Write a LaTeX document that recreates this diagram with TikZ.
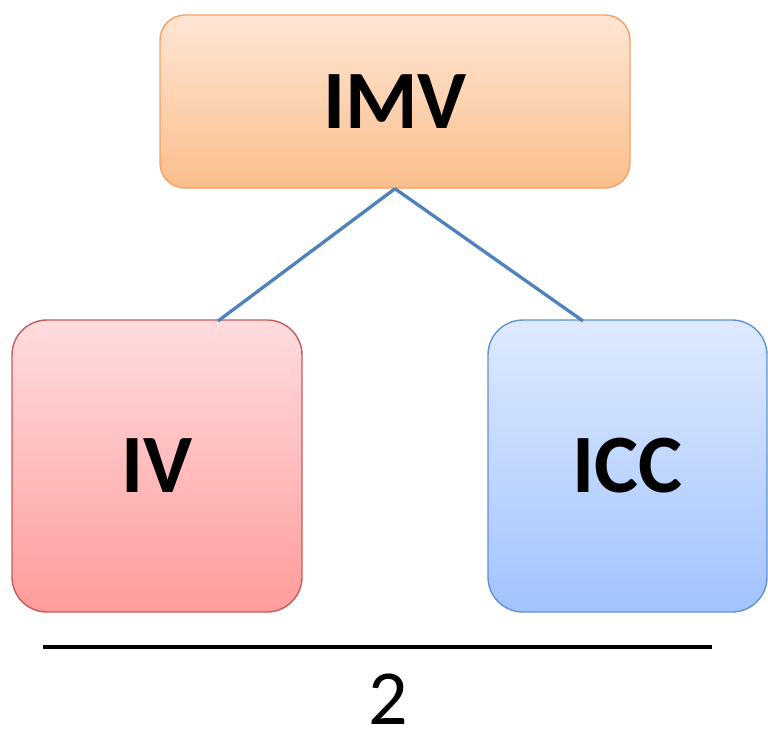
\documentclass[tikz,border=0pt]{standalone}
\usepackage{fontspec}
\setmainfont{Carlito}
\begin{document}
\begin{tikzpicture}[x=1pt,y=-1pt,
  box/.style={rounded corners=#1, line width=1.4pt, inner sep=0pt, font=\fontsize{83}{90}\selectfont\bfseries},
  link/.style={draw={rgb,255:red,79;green,129;blue,189}, line width=3.3pt}]
\useasboundingbox (0,0) rectangle (768,729);
\definecolor{orbord}{RGB}{247,160,95}
\definecolor{ortop}{RGB}{254,230,212}
\definecolor{orbot}{RGB}{251,190,140}
\definecolor{rdbord}{RGB}{200,90,90}
\definecolor{rdtop}{RGB}{255,220,222}
\definecolor{rdbot}{RGB}{255,156,156}
\definecolor{blbord}{RGB}{100,145,210}
\definecolor{bltop}{RGB}{222,234,255}
\definecolor{blbot}{RGB}{162,195,255}
\node[box=25pt, draw=orbord, top color=ortop, bottom color=orbot,
  minimum width=470pt, minimum height=173pt] (imv) at (395,101.5) {\raisebox{-3pt}{IMV}};
\node[box=35pt, draw=rdbord, top color=rdtop, bottom color=rdbot,
  minimum width=290pt, minimum height=292pt] (iv) at (157,466) {\raisebox{-3pt}{IV}};
\node[box=35pt, draw=blbord, top color=bltop, bottom color=blbot,
  minimum width=279pt, minimum height=292pt] (icc) at (627.5,466) {\raisebox{-3pt}{ICC}};
\coordinate (ivtop) at (218,321);
\coordinate (icctop) at (583,321);
\draw[link] (imv.south) -- (ivtop);
\draw[link] (imv.south) -- (icctop);
\coordinate (la) at (43,647);
\coordinate (lb) at (712,647);
\draw[line width=4.5pt] (la) -- (lb);
\node[font=\fontsize{78}{90}\selectfont, anchor=base, inner sep=0pt] (two) at (388,724) {2};
\end{tikzpicture}
\end{document}
